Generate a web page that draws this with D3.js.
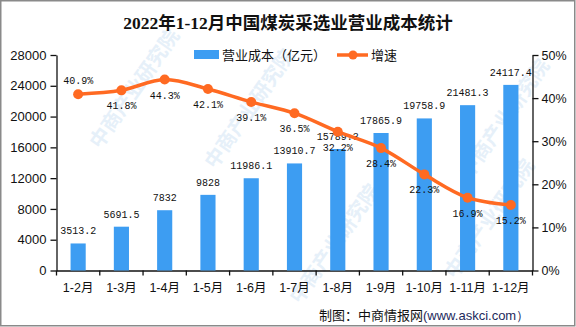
<!DOCTYPE html>
<html><head><meta charset="utf-8">
<script src="https://cdn.jsdelivr.net/npm/d3@7"></script>
<style>body{margin:0;background:#fff}svg{display:block}</style>
</head><body>
<svg id="c" width="576" height="327"></svg>
<script>
const categories = ["1-2月","1-3月","1-4月","1-5月","1-6月","1-7月","1-8月","1-9月","1-10月","1-11月","1-12月"];
const costValues = [3513.2,5691.5,7832,9828,11986.1,13910.7,15789.3,17865.9,19758.9,21481.3,24117.4];
const costLabels = ["3513.2","5691.5","7832","9828","11986.1","13910.7","15789.3","17865.9","19758.9","21481.3","24117.4"];
const growthValues = [40.9,41.8,44.3,42.1,39.1,36.5,32.2,28.4,22.3,16.9,15.2];
const leftTicks = [0,4000,8000,12000,16000,20000,24000,28000];
const rightTicks = [0,10,20,30,40,50];
const title = "2022年1-12月中国煤炭采选业营业成本统计";
const legendBar = "营业成本（亿元）";
const legendLine = "增速";
const watermark = "中商产业研究院";

const svg = d3.select("#c");
const W = 576, H = 327;
const L = 56.5, R = 532.5, T = 55, B = 270.5;
const barColor = "#3D9DF2", lineColor = "#FF6A22";

// border
svg.append("rect").attr("x",0.75).attr("y",0.75).attr("width",W-2).attr("height",H-2)
  .attr("fill","none").attr("stroke","#8a8a8a").attr("stroke-width",1.5);

// watermark (faint)
const wm = svg.append("g").attr("fill","#e6f0f9").attr("font-family","Noto Sans CJK SC").attr("font-size",20).attr("font-weight","bold");
[[100,150],[215,170],[300,305],[455,280],[470,180]].forEach(([x,y])=>{
  wm.append("text").attr("transform",`translate(${x},${y}) rotate(-55)`).text(watermark);
});

const x = d3.scaleBand().domain(categories).range([L,R]).padding(0);
const y = d3.scaleLinear().domain([0,28000]).range([B,T]);
const y2 = d3.scaleLinear().domain([0,50]).range([B,T]);

// title
svg.append("text").attr("x",288).attr("y",29).attr("text-anchor","middle")
  .attr("font-family","Liberation Serif, Noto Sans CJK SC").attr("font-weight","bold").attr("font-size",17.5)
  .attr("fill","#111").text(title);

// legend
const lg = svg.append("g").attr("font-family","Noto Sans CJK SC").attr("font-size",13).attr("fill","#111");
lg.append("rect").attr("x",194).attr("y",50).attr("width",25).attr("height",9).attr("fill",barColor);
lg.append("text").attr("x",222).attr("y",59.5).text(legendBar);
lg.append("line").attr("x1",337).attr("x2",368).attr("y1",55).attr("y2",55).attr("stroke",lineColor).attr("stroke-width",3.5);
lg.append("circle").attr("cx",353).attr("cy",55).attr("r",4.5).attr("fill",lineColor);
lg.append("text").attr("x",371).attr("y",59.5).text(legendLine);

// axes
const axL = svg.append("g").attr("transform",`translate(${L},0)`)
  .call(d3.axisLeft(y).tickValues(leftTicks).tickSize(6).tickPadding(4).tickSizeOuter(0).tickFormat(d3.format("d")));
const axR = svg.append("g").attr("transform",`translate(${R},0)`)
  .call(d3.axisRight(y2).tickValues(rightTicks).tickSize(6).tickPadding(3).tickSizeOuter(0).tickFormat(d=>d+"%"));
const axB = svg.append("g").attr("transform",`translate(0,${B})`)
  .call(d3.axisBottom(x).tickSize(0).tickSizeOuter(0));
[axL,axR,axB].forEach(a=>{a.selectAll("path,line").attr("stroke","#111").attr("stroke-width",1.3);
  a.selectAll("text").attr("fill","#111").attr("font-family","Liberation Sans, Noto Sans CJK SC");});
axL.selectAll("text").attr("font-size",13);
axR.selectAll("text").attr("font-size",12.5);
axB.selectAll("text").attr("font-size",12.5).attr("dy","1.45em");
// category boundary ticks
const bounds = categories.map(c=>x(c)).concat([R]);
axB.selectAll("line.bt").data(bounds).enter().append("line").attr("class","bt")
  .attr("x1",d=>d).attr("x2",d=>d).attr("y1",0).attr("y2",5).attr("stroke","#111").attr("stroke-width",1.3);

// bars
const bw = x.bandwidth()*0.35;
svg.append("g").selectAll("rect").data(costValues).enter().append("rect")
  .attr("x",(d,i)=>x(categories[i])+x.bandwidth()/2-bw/2).attr("width",bw)
  .attr("y",d=>y(d)).attr("height",d=>B-y(d)).attr("fill",barColor);
svg.append("g").selectAll("text").data(costValues).enter().append("text")
  .attr("x",(d,i)=>x(categories[i])+x.bandwidth()/2).attr("y",d=>y(d)-9)
  .attr("text-anchor","middle").attr("font-family","Liberation Mono").attr("font-size",10).attr("fill","#111")
  .text((d,i)=>costLabels[i]);

// line
const cx = i=>x(categories[i])+x.bandwidth()/2;
const line = d3.line().x((d,i)=>cx(i)).y(d=>y2(d)).curve(d3.curveCatmullRom.alpha(0.5));
svg.append("path").datum(growthValues).attr("d",line).attr("fill","none").attr("stroke",lineColor).attr("stroke-width",3.5);
svg.append("g").selectAll("circle").data(growthValues).enter().append("circle")
  .attr("cx",(d,i)=>cx(i)).attr("cy",d=>y2(d)).attr("r",5).attr("fill",lineColor);
svg.append("g").selectAll("text").data(growthValues).enter().append("text")
  .attr("x",(d,i)=>cx(i)).attr("y",(d,i)=>i===0? y2(d)-10 : y2(d)+19)
  .attr("text-anchor","middle").attr("font-family","Liberation Mono").attr("font-size",10).attr("fill","#111")
  .text(d=>d.toFixed(1)+"%");

// footer
const ft = svg.append("text").attr("x",319).attr("y",320).attr("font-size",13).attr("fill","#111");
ft.append("tspan").attr("font-family","Noto Sans CJK SC").text("制图：中商情报网");
ft.append("tspan").attr("font-family","Liberation Sans").attr("fill","#1d2a5c").text("(www.askci.com）");
</script>
</body></html>
